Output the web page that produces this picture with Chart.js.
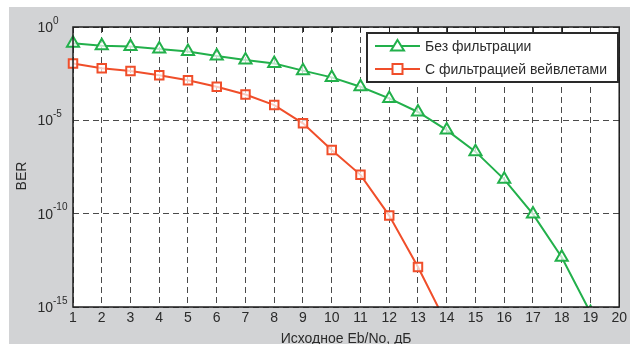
<!DOCTYPE html>
<html>
<head>
<meta charset="utf-8">
<script src="https://cdn.jsdelivr.net/npm/chart.js@4/dist/chart.umd.min.js"></script>
<style>
  html, body { margin: 0; padding: 0; background: #fff; }
  #wrap { width: 630px; height: 344px; }
</style>
</head>
<body>
<div id="wrap"><canvas id="ber"></canvas></div>
<script>
  var ebNoGreen = [1, 2, 3, 4, 5, 6, 7, 8, 9, 10, 11, 12, 13, 14, 15, 16, 17, 18, 19];
  var berNoFilter = [1.35e-1, 1.0e-1, 8.9e-2, 6.6e-2, 4.8e-2, 2.8e-2, 1.7e-2, 1.1e-2, 4.6e-3, 2.0e-3,
    6.3e-4, 1.5e-4, 2.8e-5, 3.0e-6, 2.1e-7, 6.9e-9, 9.5e-11, 4.6e-13, 5.0e-16];
  var ebNoRed = [1, 2, 3, 4, 5, 6, 7, 8, 9, 10, 11, 12, 13, 14];
  var berWavelet = [1.1e-2, 6.2e-3, 4.4e-3, 2.6e-3, 1.4e-3, 6.3e-4, 2.4e-4, 6.6e-5, 6.9e-6, 2.6e-7,
    1.2e-8, 7.9e-11, 1.4e-13, 1.2e-16];
  var seriesNames = ["Без фильтрации", "С фильтрацией вейвлетами"];
  var yTickValues = [1e-15, 1e-10, 1e-5, 1];
  var yTickExps = ["-15", "-10", "-5", "0"];
  var xTitle = "Исходное Eb/No, дБ";
  var yTitle = "BER";

  var GREEN = "#22b04b";
  var RED = "#f04e2a";
  var FONT = "'Liberation Sans', Arial, sans-serif";
  var TEXT = "#2b2b2b";

  function pairs(xs, ys) {
    return xs.map(function (x, i) { return { x: x, y: ys[i] }; });
  }

  var decorPlugin = {
    id: "decor",
    beforeDraw: function (chart) {
      var ctx = chart.ctx, a = chart.chartArea;
      ctx.save();
      ctx.fillStyle = "#fff";
      ctx.fillRect(0, 0, chart.width, chart.height);
      ctx.fillStyle = "#d2d3d5";
      ctx.fillRect(9, 7, chart.width - 9, chart.height - 7);
      ctx.fillStyle = "#fff";
      ctx.fillRect(a.left, a.top, a.right - a.left, a.bottom - a.top);
      ctx.restore();
    },
    afterDraw: function (chart) {
      var ctx = chart.ctx, a = chart.chartArea;
      var ys = chart.scales.y, xs = chart.scales.x;
      ctx.save();
      // plot box
      ctx.strokeStyle = "#1e1e1e";
      ctx.lineWidth = 1.5;
      ctx.strokeRect(a.left, a.top, a.right - a.left, a.bottom - a.top);
      // small inner ticks on top edge
      ctx.lineWidth = 1;
      for (var v = 2; v < 20; v++) {
        var px = Math.round(xs.getPixelForValue(v)) + 0.5;
        ctx.beginPath();
        ctx.moveTo(px, a.top);
        ctx.lineTo(px, a.top + 5);
        ctx.stroke();
      }
      // y tick labels with superscripts
      ctx.fillStyle = TEXT;
      ctx.textBaseline = "middle";
      yTickValues.forEach(function (val, i) {
        var py = ys.getPixelForValue(val);
        ctx.font = "14px " + FONT;
        ctx.textAlign = "right";
        ctx.fillText("10", 53, py + 1);
        ctx.font = "10px " + FONT;
        ctx.textAlign = "left";
        ctx.fillText(yTickExps[i], 53, py - 6);
      });
      // axis titles
      ctx.font = "14px " + FONT;
      ctx.textAlign = "center";
      ctx.fillText(xTitle, (a.left + a.right) / 2, 339);
      ctx.translate(22, 176);
      ctx.rotate(-Math.PI / 2);
      ctx.fillText(yTitle, 0, 0);
      ctx.restore();

      // legend
      ctx.save();
      var lx = 367, ly = 33, lw = 251, lh = 49;
      ctx.fillStyle = "#fff";
      ctx.fillRect(lx, ly, lw, lh);
      ctx.strokeStyle = "#2a2a2a";
      ctx.lineWidth = 2;
      ctx.strokeRect(lx, ly, lw, lh);
      var rows = [46, 69];
      chart.data.datasets.forEach(function (ds, i) {
        var y = rows[i];
        ctx.strokeStyle = ds.borderColor;
        ctx.lineWidth = 2;
        ctx.beginPath();
        ctx.moveTo(375, y);
        ctx.lineTo(420, y);
        ctx.stroke();
        ctx.fillStyle = "#fff";
        ctx.beginPath();
        if (ds.pointStyle === "triangle") {
          ctx.moveTo(397.5, y - 6);
          ctx.lineTo(404, y + 4.5);
          ctx.lineTo(391, y + 4.5);
          ctx.closePath();
        } else {
          ctx.rect(392.5, y - 5, 10, 10);
        }
        ctx.fill();
        ctx.stroke();
        ctx.fillStyle = TEXT;
        ctx.font = "14px " + FONT;
        ctx.textAlign = "left";
        ctx.textBaseline = "middle";
        ctx.fillText(ds.label, 425, y + 1);
      });
      ctx.restore();
    }
  };

  new Chart(document.getElementById("ber"), {
    type: "line",
    data: {
      datasets: [
        {
          label: seriesNames[0],
          data: pairs(ebNoGreen, berNoFilter),
          borderColor: GREEN,
          backgroundColor: "#fff",
          borderWidth: 2,
          pointStyle: "triangle",
          pointRadius: 7,
          pointBorderWidth: 2,
          pointBackgroundColor: "rgba(255,255,255,0.7)",
          tension: 0,
          clip: { left: 12, top: 12, right: 12, bottom: 0 }
        },
        {
          label: seriesNames[1],
          data: pairs(ebNoRed, berWavelet),
          borderColor: RED,
          backgroundColor: "#fff",
          borderWidth: 2,
          pointStyle: "rect",
          pointRadius: 6,
          pointBorderWidth: 2,
          pointBackgroundColor: "rgba(255,255,255,0.7)",
          tension: 0,
          clip: { left: 12, top: 12, right: 12, bottom: 0 }
        }
      ]
    },
    options: {
      responsive: true,
      maintainAspectRatio: false,
      animation: false,
      devicePixelRatio: 1,
      layout: { padding: { left: 0, top: 27, right: 8, bottom: 0 } },
      plugins: { legend: { display: false }, tooltip: { enabled: false } },
      scales: {
        x: {
          type: "linear",
          min: 1,
          max: 20,
          afterFit: function (s) { s.height = 37; },
          ticks: { stepSize: 1, padding: 3, color: TEXT, font: { family: FONT, size: 14 } },
          grid: { color: "#4a4a4a", lineWidth: 1, drawTicks: false },
          border: { display: false, dash: [6, 4] }
        },
        y: {
          type: "logarithmic",
          min: 1e-15,
          max: 1,
          afterFit: function (s) { s.width = 73; },
          afterBuildTicks: function (s) {
            s.ticks = yTickValues.map(function (v) { return { value: v }; });
          },
          ticks: { display: false },
          grid: { color: "#4a4a4a", lineWidth: 1, drawTicks: false },
          border: { display: false, dash: [6, 4] }
        }
      }
    },
    plugins: [decorPlugin]
  });
</script>
</body>
</html>
